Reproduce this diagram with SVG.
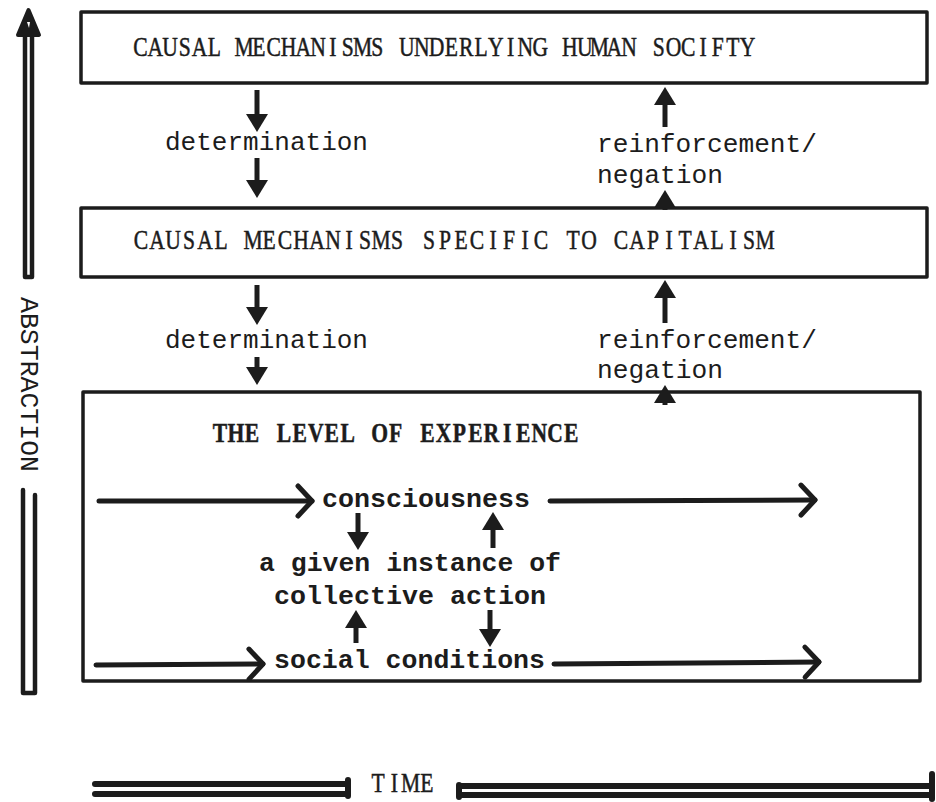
<svg xmlns="http://www.w3.org/2000/svg" width="936" height="802" viewBox="0 0 936 802">
<style>
.box{fill:none;stroke:#1c1c1c;stroke-width:3.5;stroke-linejoin:round}
.t{font-family:"Liberation Mono","DejaVu Sans Mono",monospace;fill:#1c1c1c;font-size:26px}
.c{font-family:"Liberation Serif","DejaVu Serif",serif;fill:#1c1c1c;stroke:#1c1c1c;stroke-width:0.5;font-size:27px;text-anchor:middle}
.b{font-weight:bold}
.blk{stroke:#1c1c1c;stroke-width:5;fill:none;marker-end:url(#head)}
.hz{stroke:#1c1c1c;stroke-width:5;fill:none;stroke-linecap:round;marker-end:url(#chev)}
.bar{stroke:#1c1c1c;fill:none;stroke-linecap:round;stroke-linejoin:round}
.solid{fill:#1c1c1c}
</style>
<defs>
<marker id="head" markerUnits="userSpaceOnUse" viewBox="0 0 18 22" markerWidth="18" markerHeight="22" refX="4" refY="11" orient="auto" overflow="visible">
<path d="M0,0 L18,11 L0,22 Z" fill="#1c1c1c"/>
</marker>
<marker id="chev" markerUnits="userSpaceOnUse" viewBox="-16 -18 20 36" markerWidth="20" markerHeight="36" refX="0" refY="0" orient="auto" overflow="visible">
<path d="M-14,-15 L0,0 L-14,15" fill="none" stroke="#1c1c1c" stroke-width="5" stroke-linecap="round" stroke-linejoin="round"/>
</marker>
</defs>
<rect width="936" height="802" fill="#ffffff"/>

<g id="abstraction-axis">
<path class="bar" stroke-width="4.5" d="M25,34 L25,277 L32,277 L32,34"/>
<path class="bar solid" stroke-width="4" d="M18,35 L28.5,10 L39,35 Z"/>
<path d="M27,22 L30,22 L29,28 Z" fill="#fff"/>
<text class="t" font-size="24" textLength="175" lengthAdjust="spacingAndGlyphs" transform="translate(21,297) rotate(90)">ABSTRACTION</text>
<path class="bar" stroke-width="4.5" d="M23,490 L23,693 L35,693 L35,495"/>
</g>

<g id="time-axis">
<path class="bar" stroke-width="6" d="M95,784 L346,784 M95,794 L346,794 M348,780 L348,796"/>
<text class="c" font-size="28.5" transform="translate(370,792) scale(0.8,1)" x="10.2 30.5 50.8 71.1" y="0">TIME</text>
<path class="bar" stroke-width="6" d="M461,786 L929,786 M461,795 L929,795 M459,785 L459,797"/>
<path class="bar" stroke-width="6" d="M932,774 L932,799"/>
</g>

<g id="node-human-society">
<rect class="box" x="81" y="12" width="846" height="71"/>
<text class="c" transform="translate(133,56) scale(0.8,1)" y="0" x="9.3 27.8 46.3 64.8 83.3 101.8 120.3 138.8 157.3 175.9 194.4 212.9 231.4 249.9 268.4 286.9 305.4 323.9 342.4 360.9 379.5 398.0 416.5 435.0 453.5 472.0 490.5 509.0 527.5 546.0 564.6 583.1 601.6 620.1 638.6 657.1 675.6 694.1 712.6 731.1 749.7 768.2">CAUSAL MECHANISMS UNDERLYING HUMAN SOCIFTY</text>
</g>

<g id="node-capitalism">
<rect class="box" x="81" y="208" width="846" height="69"/>
<text class="c" transform="translate(133,249) scale(0.8,1)" y="0" x="10 30 50 70 90 110 130 150 170 190 210 230 250 270 290 310 330 350 370 390 410 430 450 470 490 510 530 550 570 590 610 630 650 670 690 710 730 750 770 790">CAUSAL MECHANISMS SPECIFIC TO CAPITALISM</text>
</g>

<g id="node-experience">
<rect class="box" x="83" y="392" width="837" height="289"/>
<text class="c b" font-size="28.5" transform="translate(212,442) scale(0.8,1)" y="0" x="10.0 29.9 49.9 69.8 89.8 109.7 129.7 149.6 169.6 189.5 209.5 229.4 249.4 269.3 289.3 309.2 329.2 349.1 369.1 389.0 409.0 428.9 448.9">THE LEVEL OF EXPERIENCE</text>
</g>

<g id="node-consciousness">
<text class="t b" x="322" y="507" textLength="208" lengthAdjust="spacingAndGlyphs">consciousness</text>
</g>
<g id="node-collective-action">
<text class="t b" x="259" y="571" textLength="302" lengthAdjust="spacingAndGlyphs">a given instance of</text>
<text class="t b" x="274" y="604" textLength="272" lengthAdjust="spacingAndGlyphs">collective action</text>
</g>
<g id="node-social-conditions">
<text class="t b" x="274" y="668" textLength="271" lengthAdjust="spacingAndGlyphs">social conditions</text>
</g>

<g id="connectors">
<line class="blk" x1="257" y1="90" x2="257" y2="118"/>
<text class="t" x="165" y="150" textLength="203" lengthAdjust="spacingAndGlyphs">determination</text>
<line class="blk" x1="257" y1="158" x2="257" y2="184"/>
<line class="blk" x1="665" y1="127" x2="665" y2="101"/>
<text class="t" x="597" y="152" textLength="220" lengthAdjust="spacingAndGlyphs">reinforcement/</text>
<text class="t" x="597" y="183" textLength="126" lengthAdjust="spacingAndGlyphs">negation</text>
<line class="blk" x1="665" y1="210" x2="665" y2="204"/>

<line class="blk" x1="257" y1="285" x2="257" y2="311"/>
<text class="t" x="165" y="348" textLength="203" lengthAdjust="spacingAndGlyphs">determination</text>
<line class="blk" x1="257" y1="357" x2="257" y2="371"/>
<line class="blk" x1="665" y1="323" x2="665" y2="294"/>
<text class="t" x="597" y="348" textLength="220" lengthAdjust="spacingAndGlyphs">reinforcement/</text>
<text class="t" x="597" y="378" textLength="126" lengthAdjust="spacingAndGlyphs">negation</text>
<line class="blk" x1="665" y1="405" x2="665" y2="399"/>

<line class="blk" x1="358" y1="513" x2="358" y2="536"/>
<line class="blk" x1="493" y1="548" x2="493" y2="526"/>
<line class="blk" x1="356" y1="643" x2="356" y2="624"/>
<line class="blk" x1="490" y1="610" x2="490" y2="633"/>

<line class="hz" x1="99" y1="501" x2="312" y2="501"/>
<line class="hz" x1="550" y1="501" x2="815" y2="500"/>
<line class="hz" x1="96" y1="665" x2="263" y2="664"/>
<line class="hz" x1="554" y1="664" x2="819" y2="662"/>
</g>
</svg>
